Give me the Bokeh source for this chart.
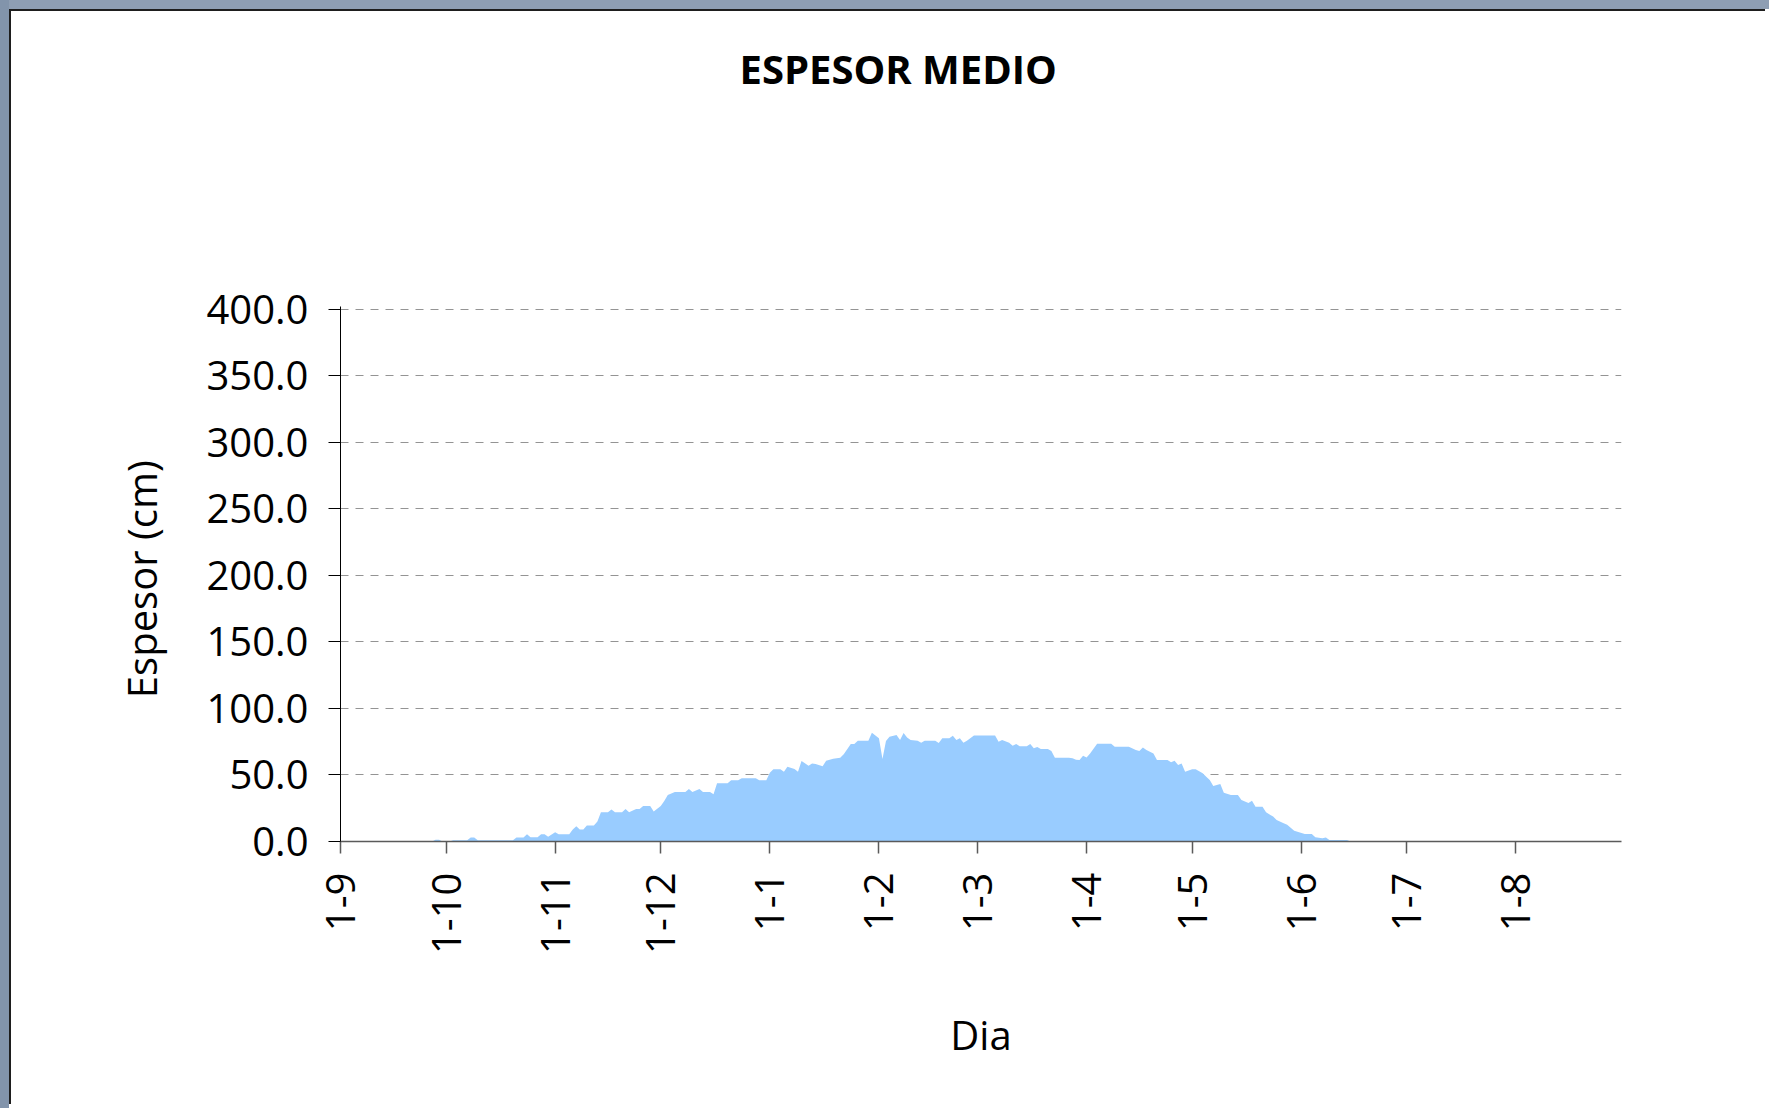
import math
import pandas as pd
from bokeh.plotting import figure
from bokeh.models import FixedTicker, NumeralTickFormatter, GlobalInlineStyleSheet, Title
from bokeh.embed import file_html
from bokeh.resources import INLINE

# ---- data -------------------------------------------------------------
season_start = "2010-09-01"
season_end = "2011-08-31"

# day number counted from 1 September
dia = [0, 26, 27, 28, 29, 31, 32, 36, 37, 38, 39, 49, 50, 52, 53, 54, 56, 57, 58, 59,
       61, 62, 65, 66, 67, 68, 69, 70, 72, 73, 74, 76, 77, 78, 80, 81, 82, 84, 85, 86,
       88, 89, 91, 92, 93, 95, 98, 99, 100, 102, 103, 105, 106, 107, 110, 111, 113, 114, 118, 119,
       121, 122, 123, 125, 126, 127, 129, 130, 131, 133, 134, 135, 137, 138, 140, 142, 143, 145, 146, 147,
       150, 151, 153, 154, 155, 156, 158, 159, 160, 161, 162, 164, 165, 166, 169, 170, 171, 173, 174, 175,
       176, 177, 178, 180, 186, 187, 188, 190, 191, 192, 193, 195, 196, 197, 198, 199, 201, 202, 203, 207,
       208, 209, 210, 211, 212, 213, 215, 219, 220, 224, 226, 227, 228, 229, 231, 232, 235, 236, 237, 238,
       239, 240, 242, 243, 245, 246, 247, 248, 250, 251, 253, 255, 256, 258, 259, 260, 262, 263, 265, 266,
       268, 269, 271, 274, 276, 277, 279, 280, 281, 286, 287, 364]

espesor = [0, 0, 1.3, 1.3, 0, 0, 1, 1, 3, 3, 1, 1, 3, 3, 5.5, 3.2, 3.2, 5.5, 5.5, 3.5,
           7, 5.5, 5.5, 9, 11.5, 9, 9, 12, 12, 15, 22, 22, 24, 22, 22, 24.5, 22, 24.5, 24.5, 26.7,
           26.7, 22.5, 26.7, 30.5, 35, 37.2, 37.2, 39.5, 37.2, 39.5, 37.2, 37.2, 35.5, 43.7, 43.7, 46, 46, 47.5, 47.5, 46,
           46, 51.7, 54.2, 54.2, 52.5, 56.2, 54.5, 52.5, 60.5, 57, 58.7, 58.2, 56.5, 60.7, 62.2, 63, 65.5, 73.2, 73.2, 75.7,
           75.7, 81.7, 77.5, 62, 75.5, 78.7, 80, 76.2, 81.5, 78.2, 76.2, 75.7, 74.2, 75.7, 75.7, 74, 77.5, 77.5, 79.5, 76.2,
           77.5, 74.2, 75.7, 79.7, 79.7, 75, 76.2, 74.2, 72, 73.2, 71.5, 71.5, 73.2, 70, 71, 69.5, 69.5, 68, 63, 63,
           62.5, 61.5, 61.2, 64.5, 63.2, 66.2, 73.5, 73.5, 71.2, 71.2, 68.7, 68, 70.7, 68.7, 66.2, 61.2, 61.2, 59.5, 60.7, 57.5,
           58.7, 52.5, 54.2, 54.2, 51.2, 48.7, 46.2, 41.7, 43.2, 36.7, 35, 35, 31.2, 29, 30.7, 26.2, 26.2, 22, 18.7, 16.2,
           13.7, 12.5, 8, 5.7, 5.7, 3.2, 2.5, 3, 1.2, 1.2, 0, 0]

month_starts = ["2010-09-01", "2010-10-01", "2010-11-01", "2010-12-01", "2011-01-01", "2011-02-01",
                "2011-03-01", "2011-04-01", "2011-05-01", "2011-06-01", "2011-07-01", "2011-08-01"]
x_tick_labels = ["1-9", "1-10", "1-11", "1-12", "1-1", "1-2", "1-3", "1-4", "1-5", "1-6", "1-7", "1-8"]
y_ticks = [0, 50, 100, 150, 200, 250, 300, 350, 400]

titulo = "ESPESOR MEDIO"
x_label = "Dia"
y_label = "Espesor  (cm)"

# ---- derived -------------------------------------------------------------
start = pd.Timestamp(season_start)
tick_pos = [(pd.Timestamp(d) - start).days for d in month_starts]
x_end = (pd.Timestamp(season_end) - start).days

FONT = "Open Sans"

p = figure(width=1756, height=1095, output_backend="svg", toolbar_location=None,
           title=titulo,
           x_range=(0, x_end), y_range=(0, 402),
           min_border_left=329, min_border_right=146, min_border_top=295, min_border_bottom=265)
p.outline_line_color = None
p.background_fill_color = "white"
p.border_fill_color = "white"

# built-in title: stacked outermost
p.title.text_font = FONT
p.title.text_font_size = "40px"
p.title.text_font_style = "bold"
p.title.text_color = "black"
p.title.align = "left"
p.title.offset = 399
p.title.standoff = 10

# blank spacer placed between the title and the plotting area
p.add_layout(Title(text=" ", text_font_size="1px", standoff=203), "above")

p.varea(x=dia, y1=0, y2=espesor, fill_color="#99CCFF")

# grid
p.xgrid.visible = False
p.ygrid.ticker = FixedTicker(ticks=y_ticks)
p.ygrid.grid_line_color = "#949494"
p.ygrid.grid_line_dash = "8 7"
p.ygrid.grid_line_width = 1

# x axis
xa = p.xaxis[0]
xa.ticker = FixedTicker(ticks=tick_pos)
xa.major_label_overrides = {t: l for t, l in zip(tick_pos, x_tick_labels)}
xa.major_label_orientation = math.pi / 2
xa.minor_tick_line_color = None
xa.major_tick_in = 0
xa.major_tick_out = 12
xa.axis_line_color = "#5a5a5a"
xa.major_tick_line_color = "#5a5a5a"
xa.axis_line_width = 1.5
xa.major_tick_line_width = 1.5
xa.major_label_standoff = 19
xa.axis_label = x_label
xa.axis_label_standoff = 50

# y axis
ya = p.yaxis[0]
ya.ticker = FixedTicker(ticks=y_ticks)
ya.formatter = NumeralTickFormatter(format="0.0")
ya.minor_tick_line_color = None
ya.major_tick_in = 0
ya.major_tick_out = 12
ya.axis_line_color = "black"
ya.major_tick_line_color = "black"
ya.major_label_standoff = 20
ya.axis_label = y_label
ya.axis_label_standoff = 35

for ax in (xa, ya):
    ax.major_label_text_font = FONT
    ax.major_label_text_font_size = "40px"
    ax.major_label_text_color = "black"
    ax.axis_label_text_font = FONT
    ax.axis_label_text_font_size = "40px"
    ax.axis_label_text_font_style = "normal"
    ax.axis_label_text_color = "black"

css = ("html{background: linear-gradient(to right, #8294ab 9px, transparent 9px) no-repeat, "
       "linear-gradient(to bottom, #8e9eb3 9px, #ffffff 9px) no-repeat #ffffff;}")
p.stylesheets = [GlobalInlineStyleSheet(css=css)]
p.styles = {"margin-top": "9px", "margin-left": "9px",
            "border-top": "2px solid #1e1e1e", "border-left": "2px solid #1e1e1e"}

open("out.html", "w").write(file_html(p, INLINE))
